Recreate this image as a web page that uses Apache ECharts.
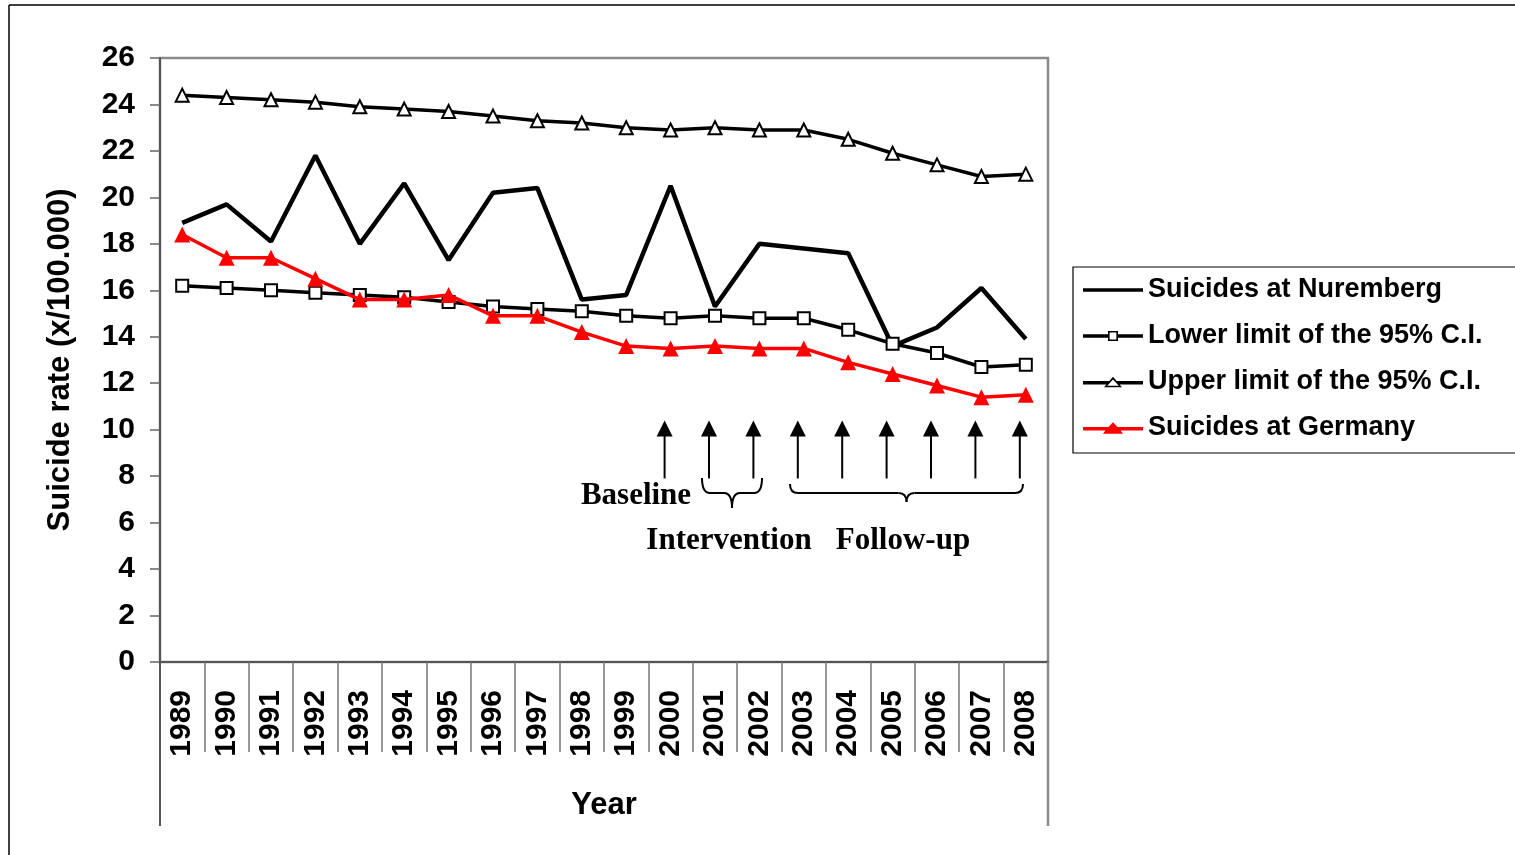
<!DOCTYPE html>
<html>
<head>
<meta charset="utf-8">
<script src="https://cdn.jsdelivr.net/npm/echarts@6/dist/echarts.min.js"></script>
<style>
html,body{margin:0;padding:0;background:#fff;}
#chart{width:1515px;height:855px;}
</style>
</head>
<body>
<div id="chart"></div>
<script>
const years = ['1989','1990','1991','1992','1993','1994','1995','1996','1997','1998','1999','2000','2001','2002','2003','2004','2005','2006','2007','2008'];
const nuremberg = [18.9,19.7,18.1,21.8,18.0,20.6,17.3,20.2,20.4,15.6,15.8,20.5,15.3,18.0,17.8,17.6,13.6,14.4,16.1,13.9];
const lowerCI = [16.2,16.1,16.0,15.9,15.8,15.7,15.5,15.3,15.2,15.1,14.9,14.8,14.9,14.8,14.8,14.3,13.7,13.3,12.7,12.8];
const upperCI = [24.4,24.3,24.2,24.1,23.9,23.8,23.7,23.5,23.3,23.2,23.0,22.9,23.0,22.9,22.9,22.5,21.9,21.4,20.9,21.0];
const germany = [18.4,17.4,17.4,16.5,15.6,15.6,15.8,14.9,14.9,14.2,13.6,13.5,13.6,13.5,13.5,12.9,12.4,11.9,11.4,11.5];
const seriesNames = ['Suicides at Nuremberg','Lower limit of the 95% C.I.','Upper limit of the 95% C.I.','Suicides at Germany'];
const arrowYears = ['2000','2001','2002','2003','2004','2005','2006','2007','2008'];
const arrowTip = 10.4, arrowTail = 7.9, arrowHeadBase = 9.75;

const SANS = '"Liberation Sans", Arial, sans-serif';
const SERIF = '"Liberation Serif", "Times New Roman", serif';

// legend icons (line sample + marker), 60 x 14 box
const iconLine = 'path://M0,5.3L60,5.3L60,8.7L0,8.7Z';
const iconSquare = 'path://M0,5.3L25,5.3L25,2L35,2L35,5.3L60,5.3L60,8.7L35,8.7L35,12L25,12L25,8.7L0,8.7Z' +
  'M26.6,3.6L26.6,10.4L33.4,10.4L33.4,3.6Z';
const iconTriOpen = 'path://M0,5.3L26.3,5.3L30,1L33.7,5.3L60,5.3L60,8.7L36.6,8.7L39,11.5L21,11.5L23.4,8.7L0,8.7Z' +
  'M30,3.8L24.2,10L35.8,10Z';
const iconTriFill = 'path://M0,5.3L25.5,5.3L30,0.5L34.5,5.3L60,5.3L60,8.7L37.6,8.7L40,12L20,12L22.4,8.7L0,8.7Z';

const chart = echarts.init(document.getElementById('chart'), null, {renderer:'canvas'});
const option = {
  animation:false,
  backgroundColor:'#fff',
  grid:{left:160, top:58, width:888, height:604, show:true, borderColor:'#8a8a8a', borderWidth:2.5, backgroundColor:'transparent'},
  xAxis:{
    type:'category', data:years, boundaryGap:true,
    axisLine:{show:true, lineStyle:{color:'#555', width:2}},
    axisTick:{show:true, interval:0, length:90, lineStyle:{color:'#777', width:1.5}},
    axisLabel:{interval:0, rotate:90, margin:28, fontSize:30, fontWeight:'bold', fontFamily:SANS, color:'#000'},
    splitLine:{show:false},
    name:'Year', nameLocation:'middle', nameGap:128,
    nameTextStyle:{fontSize:31, fontWeight:'bold', fontFamily:SANS, color:'#000', verticalAlign:'top'}
  },
  yAxis:{
    type:'value', min:0, max:26, interval:2,
    axisLine:{show:true, lineStyle:{color:'#555', width:2}},
    axisTick:{show:true, length:10, lineStyle:{color:'#666', width:1.5}},
    axisLabel:{margin:25, fontSize:30, fontWeight:'bold', fontFamily:SANS, color:'#000'},
    splitLine:{show:false},
    name:'Suicide rate (x/100.000)', nameLocation:'middle', nameGap:84, nameRotate:90,
    nameTextStyle:{fontSize:31, fontWeight:'bold', fontFamily:SANS, color:'#000'}
  },
  legend:{
    orient:'vertical', left:1073, top:267,
    padding:[8,10,10,10], itemGap:16, itemWidth:60, itemHeight:14, symbolKeepAspect:true,
    borderColor:'#000', borderWidth:1.2, backgroundColor:'#fff',
    data:[
      {name:seriesNames[0], icon:iconLine, itemStyle:{color:'#000', borderWidth:0}},
      {name:seriesNames[1], icon:iconSquare, itemStyle:{color:'#000', borderWidth:0}},
      {name:seriesNames[2], icon:iconTriOpen, itemStyle:{color:'#000', borderWidth:0}},
      {name:seriesNames[3], icon:iconTriFill, itemStyle:{color:'#ff0000', borderWidth:0}}
    ],
    textStyle:{fontSize:27, fontWeight:'bold', fontFamily:SANS, color:'#000', lineHeight:30, width:360}
  },
  series:[
    {name:seriesNames[0], type:'line', data:nuremberg, symbol:'none',
     lineStyle:{color:'#000', width:4.5}, itemStyle:{color:'#000'}, z:2},
    {name:seriesNames[1], type:'line', data:lowerCI, symbol:'rect', symbolSize:12,
     lineStyle:{color:'#000', width:3.5}, itemStyle:{color:'#fff', borderColor:'#000', borderWidth:2}, z:3},
    {name:seriesNames[2], type:'line', data:upperCI, symbol:'triangle', symbolSize:13,
     lineStyle:{color:'#000', width:3.5}, itemStyle:{color:'#fff', borderColor:'#000', borderWidth:2}, z:3},
    {name:seriesNames[3], type:'line', data:germany, symbol:'triangle', symbolSize:16,
     lineStyle:{color:'#ff0000', width:3.5}, itemStyle:{color:'#ff0000', borderColor:'#ff0000', borderWidth:0}, z:4}
  ]
};
chart.setOption(option);

function px(cat, val){ return chart.convertToPixel({xAxisIndex:0, yAxisIndex:0}, [cat, val]); }

const g = [];
// outer frame (top and left edges)
g.push({type:'line', shape:{x1:9, y1:5, x2:1515, y2:5}, style:{stroke:'#000', lineWidth:1.5}, z:10});
g.push({type:'line', shape:{x1:9, y1:5, x2:9, y2:855}, style:{stroke:'#000', lineWidth:1.5}, z:10});
// extended plot-area verticals below the axis
g.push({type:'line', shape:{x1:160, y1:662, x2:160, y2:826}, style:{stroke:'#555', lineWidth:2}, z:10});
g.push({type:'line', shape:{x1:1048, y1:662, x2:1048, y2:826}, style:{stroke:'#8a8a8a', lineWidth:2.5}, z:10});

// arrows
arrowYears.forEach(function(yr){
  const tip = px(yr, arrowTip), tail = px(yr, arrowTail), base = px(yr, arrowHeadBase);
  const x = tip[0] - 6;
  g.push({type:'line', shape:{x1:x, y1:tail[1], x2:x, y2:base[1]}, style:{stroke:'#000', lineWidth:2}, z:10});
  g.push({type:'polygon', shape:{points:[[x, tip[1]],[x-8, base[1]+1],[x+8, base[1]+1]]}, style:{fill:'#000'}, z:10});
});

// braces
function brace(x1, x2, yTop, yMid, yCusp){
  const xc = (x1+x2)/2, r = 8;
  const s = {stroke:'#000', lineWidth:2, fill:null};
  const out = [];
  out.push({type:'bezierCurve', shape:{x1:x1, y1:yTop, x2:x1+r, y2:yMid, cpx1:x1, cpy1:yMid}, style:s, z:10});
  out.push({type:'line', shape:{x1:x1+r, y1:yMid, x2:xc-r, y2:yMid}, style:s, z:10});
  out.push({type:'bezierCurve', shape:{x1:xc-r, y1:yMid, x2:xc, y2:yCusp, cpx1:xc, cpy1:yMid}, style:s, z:10});
  out.push({type:'bezierCurve', shape:{x1:xc, y1:yCusp, x2:xc+r, y2:yMid, cpx1:xc, cpy1:yMid}, style:s, z:10});
  out.push({type:'line', shape:{x1:xc+r, y1:yMid, x2:x2-r, y2:yMid}, style:s, z:10});
  out.push({type:'bezierCurve', shape:{x1:x2-r, y1:yMid, x2:x2, y2:yTop, cpx1:x2, cpy1:yMid}, style:s, z:10});
  return out;
}
brace(702, 762, 478, 493, 508).forEach(function(e){ g.push(e); });
brace(790, 1023, 484, 493, 502).forEach(function(e){ g.push(e); });

// annotation texts
function label(text, x, y){
  return {type:'text', x:x, y:y, z:10,
    style:{text:text, fill:'#000', font:'bold 31px ' + SERIF, textAlign:'center', textVerticalAlign:'middle'}};
}
g.push(label('Baseline', 636, 496));
g.push(label('Intervention', 729, 541));
g.push(label('Follow-up', 903, 541));

chart.setOption({graphic:g});
</script>
</body>
</html>
